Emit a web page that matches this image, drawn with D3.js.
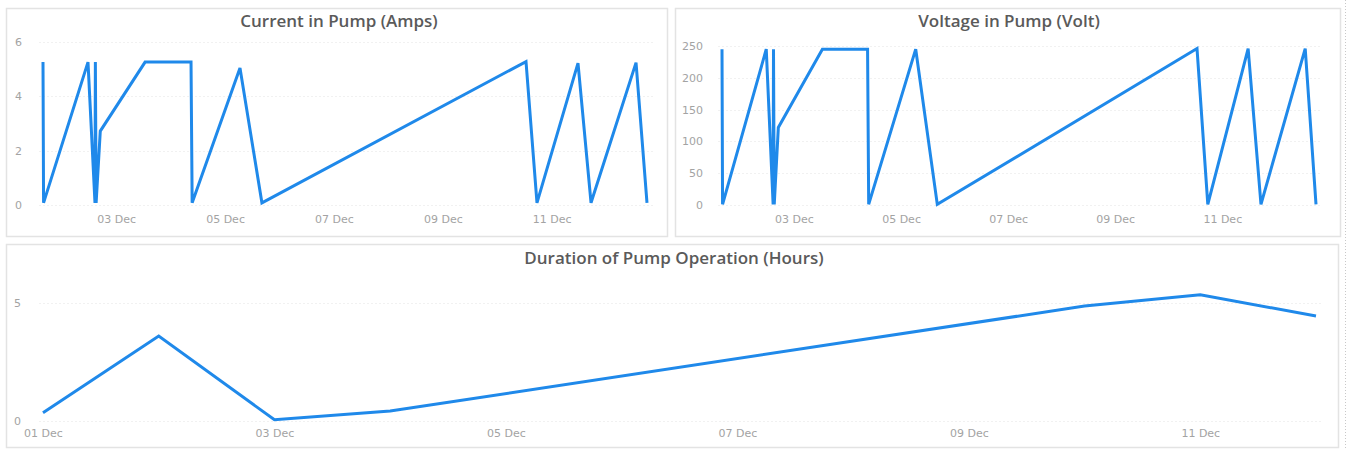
<!DOCTYPE html>
<html>
<head>
<meta charset="utf-8">
<script src="https://cdn.jsdelivr.net/npm/d3@7"></script>
<style>
  html, body { margin: 0; padding: 0; background: #ffffff; }
  svg { display: block; }
  .title { font-family: "Open Sans", sans-serif; font-weight: 600; font-size: 17px; fill: #5a5a5a; }
  .tick text { font-family: "DejaVu Sans", sans-serif; font-size: 11px; fill: #a3a3a3; }
</style>
</head>
<body>
<script>
// Pump sensor readings (timestamps shared by current and voltage)
const readingTimes = [
  "2023-12-01T15:45", "2023-12-01T16:00", "2023-12-02T11:35", "2023-12-02T14:40",
  "2023-12-02T14:50", "2023-12-02T15:10", "2023-12-02T17:00", "2023-12-03T12:45",
  "2023-12-04T09:00", "2023-12-04T09:30", "2023-12-05T06:35", "2023-12-05T16:15",
  "2023-12-10T12:40", "2023-12-10T17:30", "2023-12-11T11:35", "2023-12-11T17:20",
  "2023-12-12T13:10", "2023-12-12T18:00"
];
const currentAmps = [
  5.26, 0.08, 5.26, 0.08, 5.26, 0.08, 2.72, 5.26,
  5.26, 0.08, 5.04, 0.08, 5.28, 0.08, 5.22, 0.08,
  5.24, 0.08
];
const voltageVolts = [
  245, 1, 245, 1, 245, 1, 122, 245,
  245, 1, 245, 1, 246, 1, 246, 1,
  246, 1
];

// Daily operating hours
const durationDays = ["2023-12-01", "2023-12-02", "2023-12-03", "2023-12-04",
                      "2023-12-10", "2023-12-11", "2023-12-12"];
const durationHours = [0.35, 3.6, 0.05, 0.42, 4.87, 5.35, 4.45];

// Axis ticks
const currentTicks = [0, 2, 4, 6];
const voltageTicks = [0, 50, 100, 150, 200, 250];
const durationTicks = [0, 5];

const W = 1348, H = 450;
const LINE = "#1f89ea";
const parseTime = d3.utcParse("%Y-%m-%dT%H:%M");
const parseDay = d3.utcParse("%Y-%m-%d");
const fmtDay = d3.utcFormat("%d %b");

const svg = d3.select("body").append("svg").attr("width", W).attr("height", H);

// dotted page edge on the right
svg.append("line")
  .attr("x1", 1345.5).attr("x2", 1345.5).attr("y1", 0).attr("y2", H)
  .attr("stroke", "#c8c8c8").attr("stroke-dasharray", "1,2");

function panel(cfg) {
  const g = svg.append("g");
  // frame
  g.append("rect")
    .attr("x", cfg.box[0] + 0.5).attr("y", cfg.box[1] + 0.5)
    .attr("width", cfg.box[2] - cfg.box[0]).attr("height", cfg.box[3] - cfg.box[1])
    .attr("fill", "#ffffff").attr("stroke", "#e3e3e3").attr("stroke-width", 1.5);
  // title
  g.append("text").attr("class", "title")
    .attr("x", cfg.titleX).attr("y", cfg.titleY)
    .attr("text-anchor", "middle").text(cfg.title);

  const x = d3.scaleUtc().domain(cfg.xDomain).range(cfg.xRange);
  const y = d3.scaleLinear().domain(cfg.yDomain).range(cfg.yRange);

  // faint horizontal grid
  g.append("g").selectAll("line").data(cfg.yTicks).join("line")
    .attr("x1", cfg.xRange[0] - 4).attr("x2", cfg.xRange[1] + 6)
    .attr("y1", d => Math.round(y(d)) + 0.5).attr("y2", d => Math.round(y(d)) + 0.5)
    .attr("stroke", "#f1f1f1").attr("stroke-dasharray", "2,2");

  // y axis labels
  const yAxis = d3.axisLeft(y).tickValues(cfg.yTicks).tickFormat(d3.format("d"))
    .tickSize(0).tickPadding(0);
  g.append("g").attr("transform", `translate(${cfg.yLabelX},0)`).call(yAxis)
    .call(a => a.select(".domain").remove());

  // x axis labels
  const xAxis = d3.axisBottom(x).ticks(d3.utcDay.every(2)).tickFormat(fmtDay)
    .tickSize(0).tickPadding(0);
  g.append("g").attr("transform", `translate(0,${cfg.xLabelY})`).call(xAxis)
    .call(a => a.select(".domain").remove());

  // series line
  g.append("path")
    .datum(cfg.times.map((t, i) => [t, cfg.values[i]]))
    .attr("fill", "none").attr("stroke", LINE).attr("stroke-width", 3)
    .attr("stroke-linejoin", "miter").attr("stroke-miterlimit", 3)
    .attr("d", d3.line().x(d => x(d[0])).y(d => y(d[1])));
}

const times = readingTimes.map(parseTime);
const days = durationDays.map(parseDay);

panel({
  box: [6, 8, 667, 236], title: "Current in Pump (Amps)", titleX: 339, titleY: 27,
  times: times, values: currentAmps,
  xDomain: d3.extent(times), xRange: [43, 647],
  yDomain: [0, 6], yRange: [205, 42], yTicks: currentTicks,
  yLabelX: 22, xLabelY: 215
});

panel({
  box: [675, 8, 1340, 236], title: "Voltage in Pump (Volt)", titleX: 1009, titleY: 27,
  times: times, values: voltageVolts,
  xDomain: d3.extent(times), xRange: [722, 1316],
  yDomain: [0, 250], yRange: [205, 46], yTicks: voltageTicks,
  yLabelX: 703, xLabelY: 215
});

panel({
  box: [6, 244, 1338, 447], title: "Duration of Pump Operation (Hours)", titleX: 674, titleY: 264,
  times: days, values: durationHours,
  xDomain: d3.extent(days), xRange: [43, 1316],
  yDomain: [0, 5], yRange: [421, 303], yTicks: durationTicks,
  yLabelX: 21, xLabelY: 429
});
</script>
</body>
</html>
